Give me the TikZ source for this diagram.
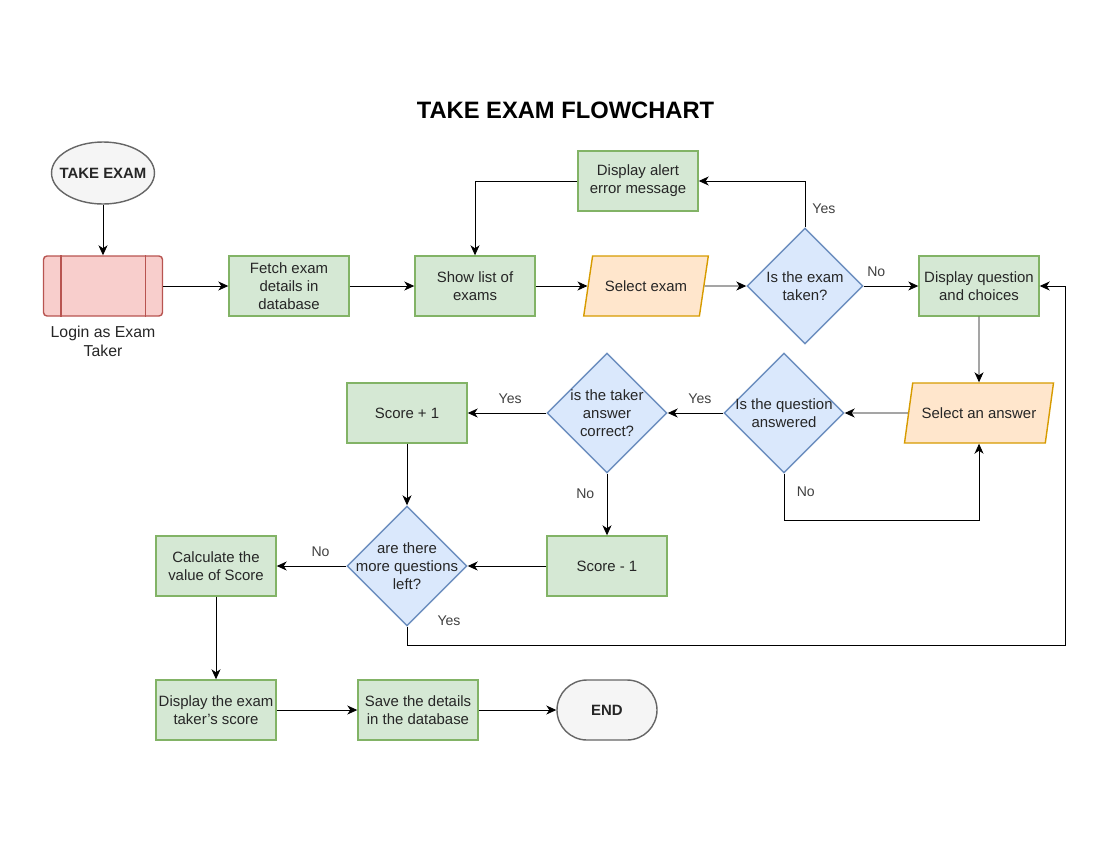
\documentclass[tikz,border=0pt]{standalone}
\usepackage{fontspec}
\setmainfont{Liberation Sans}
\usetikzlibrary{shapes.geometric, arrows.meta}

\definecolor{greenfill}{HTML}{D5E8D4}
\definecolor{greenline}{HTML}{82B366}
\definecolor{bluefill}{HTML}{DAE8FC}
\definecolor{blueline}{HTML}{6C8EBF}
\definecolor{orangefill}{HTML}{FFE6CC}
\definecolor{orangeline}{HTML}{D79B00}
\definecolor{redfill}{HTML}{F8CECC}
\definecolor{redline}{HTML}{B85450}
\definecolor{grayfill}{HTML}{F5F5F5}
\definecolor{grayline}{HTML}{666666}

\begin{document}
\begin{tikzpicture}[>={Stealth[length=2mm,width=1.8mm,inset=0.6mm]}, font=\fontsize{8.5}{10.2}\selectfont, line width=0.5pt,
	proc/.style = {draw=greenline, fill=greenfill, line width=0.8pt, minimum width=2.4cm, minimum height=1.2cm, inner xsep=1pt, align=center, text=black!85},
	dec/.style = {diamond, draw=blueline, fill=bluefill, line width=0.8pt, aspect=1, inner sep=-6mm, minimum width=2.4cm, minimum height=2.4cm, align=center, text=black!85},
	io/.style = {trapezium, trapezium left angle=71, trapezium right angle=109, trapezium stretches=true, draw=orangeline, fill=orangefill, line width=0.8pt, minimum height=1.2cm, align=center, text=black!85},
	term/.style = {draw=grayline, fill=grayfill, line width=0.8pt, minimum width=2cm, minimum height=1.2cm, rounded corners=0.6cm, font=\fontsize{8.5}{10.2}\selectfont\bfseries, text=black!85},
	lbl/.style = {font=\fontsize{8}{9.6}\selectfont, text=black!75, fill=white, inner sep=1pt}]
	\useasboundingbox (0,0) rectangle (22,-17);
	\node[font=\fontsize{13.5}{16}\selectfont\bfseries] (title) at (11.31,-2.2) {TAKE EXAM FLOWCHART};
	\node[ellipse, draw=grayline, fill=grayfill, line width=0.8pt, minimum width=2cm, minimum height=1.24cm, inner sep=-4pt, font=\fontsize{8.5}{10.2}\selectfont\bfseries, text=black!85] (begin) at (2.06,-3.46) {TAKE EXAM};
	\node[draw=redline, fill=redfill, line width=0.8pt, rounded corners=2pt, minimum width=2.38cm, minimum height=1.2cm] (login) at (2.06,-5.72) {};
	\draw[redline, line width=0.8pt] ([xshift=0.36cm]login.north west) -- ([xshift=0.36cm]login.south west);
	\draw[redline, line width=0.8pt] ([xshift=-0.36cm]login.north east) -- ([xshift=-0.36cm]login.south east);
	\node[align=center, font=\fontsize{9}{10.8}\selectfont, text=black!85] (logintxt) at (2.06,-6.83) {Login as Exam\\Taker};
	\node[proc] (fetch) at (5.78,-5.72) {Fetch exam\\details in\\database};
	\node[proc] (show) at (9.5,-5.72) {Show list of\\exams};
	\node[io, minimum width=2.5cm] (selexam) at (12.92,-5.72) {Select exam};
	\node[dec, minimum width=2.32cm, minimum height=2.32cm] (taken) at (16.1,-5.72) {Is the exam\\taken?};
	\node[proc] (alert) at (12.76,-3.62) {Display alert\\error message};
	\node[proc] (dispq) at (19.58,-5.72) {Display question\\and choices};
	\node[io, minimum width=3cm] (selans) at (19.58,-8.26) {Select an answer};
	\node[dec] (answered) at (15.68,-8.26) {Is the question\\answered};
	\node[dec] (correct) at (12.14,-8.26) {is the taker\\answer\\correct?};
	\node[proc] (scoreplus) at (8.14,-8.26) {Score + 1};
	\node[proc] (scoreminus) at (12.14,-11.32) {Score - 1};
	\node[dec] (more) at (8.14,-11.32) {are there\\more questions\\left?};
	\node[proc] (calc) at (4.32,-11.32) {Calculate the\\value of Score};
	\node[proc] (dscore) at (4.32,-14.2) {Display the exam\\taker's score};
	\node[proc] (save) at (8.36,-14.2) {Save the details\\in the database};
	\node[term] (finish) at (12.14,-14.2) {END};
	\coordinate (c1) at (15.68,-10.4);
	\coordinate (c2) at (21.3,-12.9);
	\draw[->] (begin) -- (login);
	\draw[->] (login) -- (fetch);
	\draw[->] (fetch) -- (show);
	\draw[->] (show) -- (selexam);
	\draw[->] (selexam) -- (taken);
	\draw[->] (taken) -- node[lbl, above=4pt, pos=0.23] {No} (dispq);
	\draw[->] (taken.north) |- node[lbl, pos=0.2, right=3pt] {Yes} (alert.east);
	\draw[->] (alert.west) -| (show.north);
	\draw[->] (dispq) -- (selans);
	\draw[->] (selans) -- (answered);
	\draw[->] (answered) -- node[lbl, above=4pt, pos=0.42] {Yes} (correct);
	\draw[->] (answered.south) -- node[lbl, right=6pt, pos=0.4] {No} (c1) -| (selans.south);
	\draw[->] (correct) -- node[lbl, above=4pt, pos=0.46] {Yes} (scoreplus);
	\draw[->] (correct) -- node[lbl, left=6pt, pos=0.33] {No} (scoreminus);
	\draw[->] (scoreplus) -- (more);
	\draw[->] (scoreminus) -- (more);
	\draw[->] (more) -- node[lbl, above=4pt, pos=0.37] {No} (calc);
	\draw[->] (more.south) |- (c2) |- (dispq.east);
	\node[lbl] (yesmore) at (8.98,-12.42) {Yes};
	\draw[->] (calc) -- (dscore);
	\draw[->] (dscore) -- (save);
	\draw[->] (save) -- (finish);
\end{tikzpicture}
\end{document}
